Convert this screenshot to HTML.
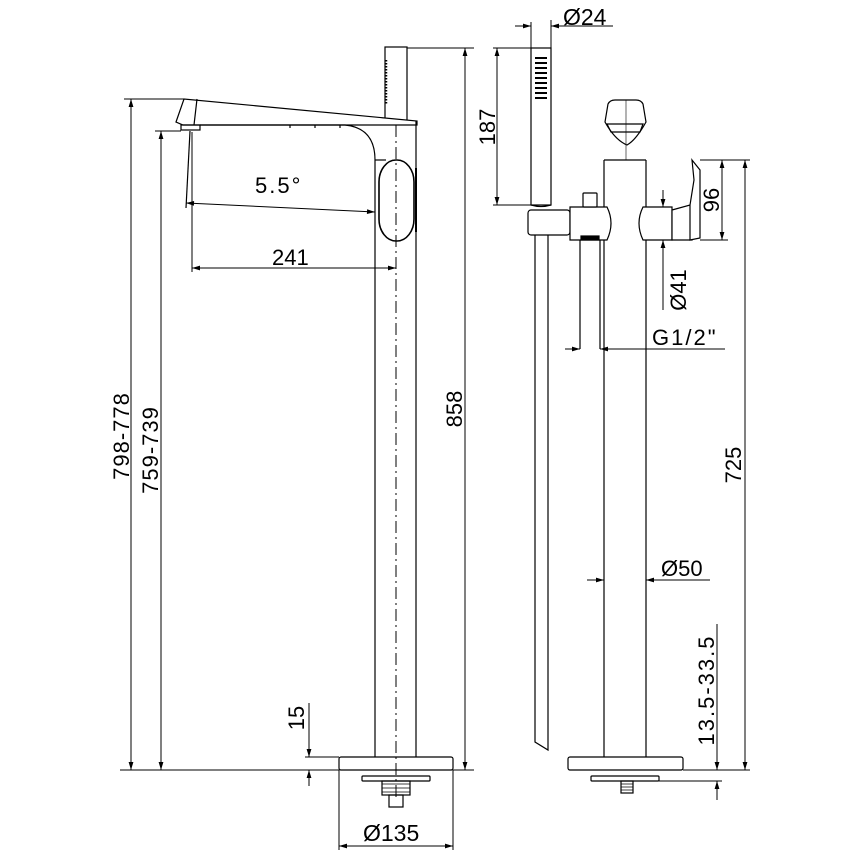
<!DOCTYPE html>
<html><head><meta charset="utf-8"><style>
html,body{margin:0;padding:0;background:#fff}
svg{display:block}
text{font-family:"Liberation Sans",Arial,sans-serif;fill:#000}
</style></head><body>
<svg width="854" height="854" viewBox="0 0 854 854" xmlns="http://www.w3.org/2000/svg">
<defs>
<marker id="a" viewBox="0 0 10 10" refX="10" refY="5" markerWidth="12" markerHeight="8" orient="auto-start-reverse" markerUnits="userSpaceOnUse">
<path d="M0,2 L10,5 L0,8 z" fill="#000"/></marker>
</defs>
<g stroke="#000" stroke-width="1.2" fill="none">
<!-- LEFT VIEW -->
<rect x="385" y="47" width="22" height="75" fill="#fff"/>
<line x1="386" y1="60" x2="386" y2="104" stroke-dasharray="1.5,1.5" stroke-width="2.5"/>
<path d="M176,122 L184,99 L417,121 L417,125 L183,125 Z" fill="#fff"/>
<line x1="197" y1="99" x2="194" y2="125"/>
<rect x="181" y="125" width="19" height="5"/>
<path d="M200,125 L345,125 Q375,128 375,160"/>
<path d="M290,125 L290,128 M315,125 L315,128 M340,125 L340,128"/>
<line x1="375" y1="160" x2="375" y2="757"/>
<line x1="416" y1="121" x2="416" y2="757"/>
<line x1="375" y1="160" x2="386" y2="160"/>
<rect x="379" y="160" width="35" height="81" rx="17" ry="22" fill="#fff" stroke-width="1.6"/>
<line x1="416" y1="168" x2="416" y2="232" stroke-width="2"/>
<line x1="396" y1="125" x2="396" y2="800" stroke-dasharray="12,4,2,4" stroke-width="1"/>
<rect x="339" y="757" width="114" height="13" rx="2"/>
<rect x="362" y="776" width="68" height="5" rx="1"/>
<rect x="382" y="781" width="28" height="14"/>
<path d="M382,784 h28 M382,788 h28 M382,792 h28" stroke-width="0.8"/>
<rect x="389" y="795" width="14" height="12"/>
<line x1="190" y1="131" x2="186" y2="208"/>
<line x1="124" y1="99" x2="184" y2="99" stroke-width="1"/>
<line x1="155" y1="131" x2="181" y2="131" stroke-width="1"/>
<line x1="131" y1="99" x2="131" y2="770" marker-start="url(#a)" marker-end="url(#a)" stroke-width="1"/>
<line x1="161" y1="131" x2="161" y2="770" marker-start="url(#a)" marker-end="url(#a)" stroke-width="1"/>
<line x1="120" y1="770" x2="339" y2="770" stroke-width="1"/>
<line x1="453" y1="770" x2="474" y2="770" stroke-width="1"/>
<line x1="407" y1="48" x2="474" y2="48" stroke-width="1"/>
<line x1="465" y1="48" x2="465" y2="770" marker-start="url(#a)" marker-end="url(#a)" stroke-width="1"/>
<line x1="186" y1="203" x2="375" y2="212" marker-start="url(#a)" marker-end="url(#a)" stroke-width="1"/>
<line x1="192" y1="132" x2="192" y2="272" stroke-width="1"/>
<line x1="192" y1="268" x2="396" y2="268" marker-start="url(#a)" marker-end="url(#a)" stroke-width="1"/>
<line x1="339" y1="770" x2="339" y2="850" stroke-width="1"/>
<line x1="453" y1="770" x2="453" y2="850" stroke-width="1"/>
<line x1="339" y1="846" x2="453" y2="846" marker-start="url(#a)" marker-end="url(#a)" stroke-width="1"/>
<line x1="305" y1="757" x2="339" y2="757" stroke-width="1"/>
<line x1="309" y1="703" x2="309" y2="757" marker-end="url(#a)" stroke-width="1"/>
<line x1="309" y1="786" x2="309" y2="770" marker-end="url(#a)" stroke-width="1"/>

<!-- RIGHT VIEW -->
<rect x="531" y="48" width="20" height="157" fill="#fff"/>
<g stroke-width="0" fill="#000">
<path d="M535,57 h12 v2 h-12z M535,62 h12 v2 h-12z M535,67 h12 v2 h-12z M535,72 h12 v2 h-12z M535,77 h12 v2 h-12z M535,82 h12 v2 h-12z M535,87 h12 v2 h-12z M535,92 h12 v2 h-12z M535,97 h12 v2 h-12z"/>
</g>
<rect x="528" y="210" width="42" height="25" rx="3" fill="#fff"/>
<path d="M531,205 Q541,208 551,205"/>
<path d="M535,235 L535,742 L548,750 L548,235"/>
<path d="M570,207 L607,207 Q615,223 607,240 L570,240 Z" fill="#fff"/>
<rect x="583" y="193" width="14" height="14" rx="1" fill="#fff"/>
<line x1="580" y1="240" x2="580" y2="349"/>
<line x1="600" y1="240" x2="600" y2="349"/>
<rect x="581" y="236" width="18" height="4" fill="#000"/>
<path d="M604,160 L604,207 M646,160 L646,207"/>
<path d="M604,160 L646,160"/>
<path d="M605,122 L608,104 Q610,100 615,100 L636,100 Q641,100 643,104 L646,122 Q636,140 627,145 Q615,140 605,122 Z" fill="#fff"/>
<path d="M607,124 L643,124 L640,132 L611,132 Z"/>
<line x1="626" y1="100" x2="626" y2="160" stroke-width="0.6"/>
<line x1="604" y1="240" x2="604" y2="757"/>
<line x1="646" y1="240" x2="646" y2="757"/>
<path d="M672,207 L643,207 Q635,223 643,240 L672,240 Z" fill="#fff"/>
<path d="M672,210 L690,205 L692,240 L672,240 Z" fill="#fff"/>
<path d="M692,160 L700,170 L700,238 L690,240 L690,205 L694,180 Z" fill="#fff"/>
<rect x="568" y="757" width="115" height="13" rx="2"/>
<rect x="591" y="776" width="68" height="5" rx="1"/>
<rect x="621" y="781" width="12" height="12"/>
<path d="M621,784 h12 M621,787 h12 M621,790 h12" stroke-width="0.8"/>
<line x1="551" y1="20" x2="551" y2="48" stroke-width="1"/>
<line x1="531" y1="22" x2="531" y2="48" stroke-width="1"/>
<line x1="515" y1="26" x2="531" y2="26" marker-end="url(#a)" stroke-width="1"/>
<line x1="613" y1="26" x2="551" y2="26" marker-end="url(#a)" stroke-width="1"/>
<line x1="493" y1="48" x2="531" y2="48" stroke-width="1"/>
<line x1="493" y1="205" x2="531" y2="205" stroke-width="1"/>
<line x1="497" y1="48" x2="497" y2="205" marker-start="url(#a)" marker-end="url(#a)" stroke-width="1"/>
<line x1="700" y1="160" x2="750" y2="160" stroke-width="1"/>
<line x1="700" y1="240" x2="728" y2="240" stroke-width="1"/>
<line x1="722" y1="160" x2="722" y2="240" marker-start="url(#a)" marker-end="url(#a)" stroke-width="1"/>
<line x1="745" y1="160" x2="745" y2="770" marker-start="url(#a)" marker-end="url(#a)" stroke-width="1"/>
<line x1="683" y1="770" x2="750" y2="770" stroke-width="1"/>
<line x1="663" y1="190" x2="663" y2="207" marker-end="url(#a)" stroke-width="1"/>
<line x1="663" y1="310" x2="663" y2="240" marker-end="url(#a)" stroke-width="1"/>
<line x1="565" y1="349" x2="580" y2="349" marker-end="url(#a)" stroke-width="1"/>
<line x1="725" y1="349" x2="600" y2="349" marker-end="url(#a)" stroke-width="1"/>
<line x1="587" y1="580" x2="604" y2="580" marker-end="url(#a)" stroke-width="1"/>
<line x1="710" y1="580" x2="646" y2="580" marker-end="url(#a)" stroke-width="1"/>
<line x1="717" y1="624" x2="717" y2="770" marker-end="url(#a)" stroke-width="1"/>
<line x1="717" y1="800" x2="717" y2="781" marker-end="url(#a)" stroke-width="1"/>
<line x1="659" y1="781" x2="722" y2="781" stroke-width="1"/>
</g>
<g font-size="22">
<text x="255" y="193" letter-spacing="2">5.5°</text>
<text x="272" y="265">241</text>
<text x="363" y="841" font-size="23">Ø135</text>
<text transform="translate(129,436) rotate(-90)" text-anchor="middle" letter-spacing="1">798-778</text>
<text transform="translate(158,450) rotate(-90)" text-anchor="middle" letter-spacing="1">759-739</text>
<text transform="translate(462,409) rotate(-90)" text-anchor="middle">858</text>
<text transform="translate(304,718) rotate(-90)" text-anchor="middle">15</text>
<text x="563" y="25" font-size="23">Ø24</text>
<text transform="translate(495,127) rotate(-90)" text-anchor="middle">187</text>
<text transform="translate(719,200) rotate(-90)" text-anchor="middle">96</text>
<text transform="translate(686,290) rotate(-90)" text-anchor="middle">Ø41</text>
<text x="652" y="345" letter-spacing="2">G1/2"</text>
<text x="661" y="576">Ø50</text>
<text transform="translate(741,465) rotate(-90)" text-anchor="middle">725</text>
<text transform="translate(714,690) rotate(-90)" text-anchor="middle" letter-spacing="2">13.5-33.5</text>
</g>
</svg>
</body></html>
